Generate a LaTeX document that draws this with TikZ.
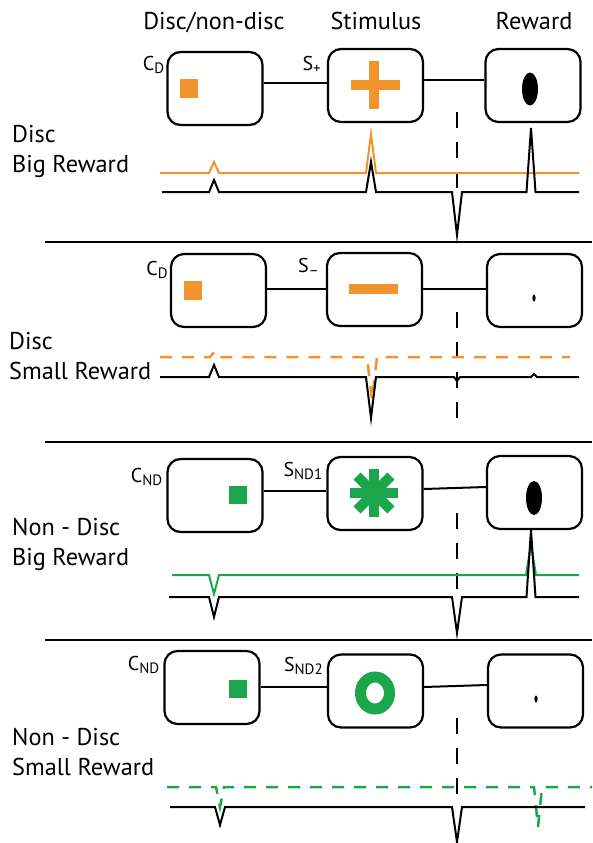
\documentclass[tikz,border=0pt]{standalone}
\usepackage{fontspec}
\setmainfont{PT Sans}
\definecolor{discorange}{RGB}{241,148,45}
\definecolor{ndgreen}{RGB}{27,166,75}
\newcommand{\cue}[2]{#1\raisebox{-3pt}{\fontsize{15}{15}\selectfont #2}}

\begin{document}
\begin{tikzpicture}[x=1pt,y=-1pt,
  stage/.style={draw,line width=2.2pt,rounded corners=13pt,minimum width=95pt,minimum height=73pt,inner sep=0pt},
  head/.style={font=\fontsize{24.3}{28}\selectfont,anchor=base,inner sep=0pt},
  cond/.style={font=\fontsize{24.3}{30}\selectfont,align=left,anchor=north west,inner sep=0pt},
  cuelbl/.style={font=\fontsize{20}{20}\selectfont,anchor=base east,inner sep=0pt},
  link/.style={line width=2pt},
  trace/.style={line width=2pt,line join=miter},
  sep/.style={line width=2pt},
  rewardline/.style={line width=2pt,dash pattern=on 16pt off 14pt},
  dashtrace/.style={line width=2.5pt,dash pattern=on 12pt off 10pt}]
\useasboundingbox (0,0) rectangle (592,843);

% column heads
\node[head] (hdisc) at (214,30) {Disc/non-disc};
\node[head] (hstim) at (376,30) {Stimulus};
\node[head] (hrew) at (534,30) {Reward};

% separators
\foreach \y in {242,442,640}
  \draw[sep] (45,\y) -- (592,\y);

%%%% disc, big reward
\node[cond] (row1) at (12,125) {Disc\\Big Reward};
\node[stage] (cue1) at (215,88.5) {};
\node[stage] (stim1) at (375.5,85.5) {};
\node[stage] (rew1) at (533,85.5) {};
\node[cuelbl] (cd1) at ([xshift=-2pt,yshift=-20pt]cue1.north west) {\cue{C}{D}};
\node[cuelbl] (sp1) at ([xshift=-6pt,yshift=-23pt]stim1.north west) {\cue{S}{+}};
\draw[link] (cue1.east |- 0,83) -- (stim1.west |- 0,83);
\draw[link] (stim1.east |- 0,80) -- (rew1.west |- 0,80);
\fill[discorange] (180,79) rectangle (198,98);
\fill[discorange] (369,61) rectangle (379,109);
\fill[discorange] (351,80) rectangle (400,90);
\fill (530,89) ellipse [x radius=8, y radius=16.5];
\draw[rewardline] (457,112) -- (457,200);
\draw[trace,discorange] (160,173) -- (209,173) -- (214,162) -- (219,173) -- (366,173) -- (371,134) -- (376,173) -- (579,173);
\draw[trace] (162,192) -- (209,192) -- (214,180) -- (219,192) -- (366,192) -- (371,162) -- (376,192)
  -- (452,192) -- (457,235) -- (462,192) -- (526.5,192) -- (531,128) -- (535.5,192) -- (579,192);

%%%% disc, small reward
\node[cond] (row2) at (9,332) {Disc\\Small Reward};
\node[stage] (cue2) at (218.5,290.5) {};
\node[stage] (stim2) at (374.5,289.5) {};
\node[stage] (rew2) at (534.5,290.5) {};
\node[cuelbl] (cd2) at ([xshift=-2pt,yshift=-23pt]cue2.north west) {\cue{C}{D}};
\node[cuelbl] (sm2) at ([xshift=-7pt,yshift=-21pt]stim2.north west) {\cue{S}{–}};
\draw[link] (cue2.east |- 0,289) -- (stim2.west |- 0,289);
\draw[link] (stim2.east |- 0,289) -- (rew2.west |- 0,289);
\fill[discorange] (184,281) rectangle (202,300);
\fill[discorange] (349,284) rectangle (398,294);
\fill (534,298) ellipse [x radius=1.6, y radius=3.5];
\draw[rewardline] (457,312) -- (457,423);
\draw[dashtrace,discorange] (160,357) -- (210,357) -- (215,351) -- (220,357) -- (367,357) -- (372,400) -- (377,357) -- (570,357);
\draw[trace] (160,377) -- (209,377) -- (214,365) -- (219,377) -- (366,377) -- (371,418) -- (376,377)
  -- (454,377) -- (457,381) -- (460,377) -- (531,377) -- (534,374) -- (537,377) -- (579,377);

%%%% non-disc, big reward
\node[cond] (row3) at (12,518) {Non - Disc\\Big Reward};
\node[stage] (cue3) at (215,495.5) {};
\node[stage] (stim3) at (375,493.5) {};
\node[stage] (rew3) at (534.5,492.5) {};
\node[cuelbl] (cnd3) at ([xshift=-4pt,yshift=-25pt]cue3.north west) {\cue{C}{ND}};
\node[cuelbl] (snd3) at ([xshift=-4pt,yshift=-21pt]stim3.north west) {\cue{S}{ND1}};
\draw[link] (cue3.east |- 0,491) -- (stim3.west |- 0,491);
\draw[link] (stim3.east |- 0,489) -- (rew3.west |- 0,487);
\fill[ndgreen] (229,486) rectangle (247,504);
\foreach \a in {0,45,90,135}
  \draw[ndgreen,line width=10pt] (374,493) ++(\a:24) -- ++(\a+180:48);
\fill (534,498) ellipse [x radius=8, y radius=17];
\draw[rewardline] (457,513) -- (457,600);
\draw[trace,ndgreen] (172,575) -- (209,575) -- (214,594) -- (219,575) -- (526,575) -- (531,545) -- (536,575) -- (579,575);
\draw[trace] (169,597) -- (209,597) -- (214,617) -- (219,597) -- (452,597) -- (457,633) -- (462,597)
  -- (526.5,597) -- (531,530) -- (535.5,597) -- (579,597);

%%%% non-disc, small reward
\node[cond] (row4) at (12,728) {Non - Disc\\Small Reward};
\node[stage] (cue4) at (212,687.5) {};
\node[stage] (stim4) at (375.5,691) {};
\node[stage] (rew4) at (535.5,691) {};
\node[cuelbl] (cnd4) at ([xshift=-4pt,yshift=-21pt]cue4.north west) {\cue{C}{ND}};
\node[cuelbl] (snd4) at ([xshift=-4pt,yshift=-18pt]stim4.north west) {\cue{S}{ND2}};
\draw[link] (cue4.east |- 0,687) -- (stim4.west |- 0,687);
\draw[link] (stim4.east |- 0,687) -- (rew4.west |- 0,685);
\fill[ndgreen] (229,680) rectangle (247,698);
\draw[ndgreen,line width=11pt] (375,693) ellipse [x radius=14.5, y radius=16];
\fill (536,699) ellipse [x radius=1.6, y radius=3.5];
\draw[rewardline] (457,718) -- (457,807);
\draw[dashtrace,ndgreen] (167,787) -- (216,787) -- (220,807) -- (224,787) -- (534,787) -- (538,827) -- (542,787) -- (592,787);
\draw[trace] (170,807) -- (215,807) -- (220,825) -- (225,807) -- (452,807) -- (457,842) -- (462,807) -- (585,807);
\end{tikzpicture}
\end{document}
